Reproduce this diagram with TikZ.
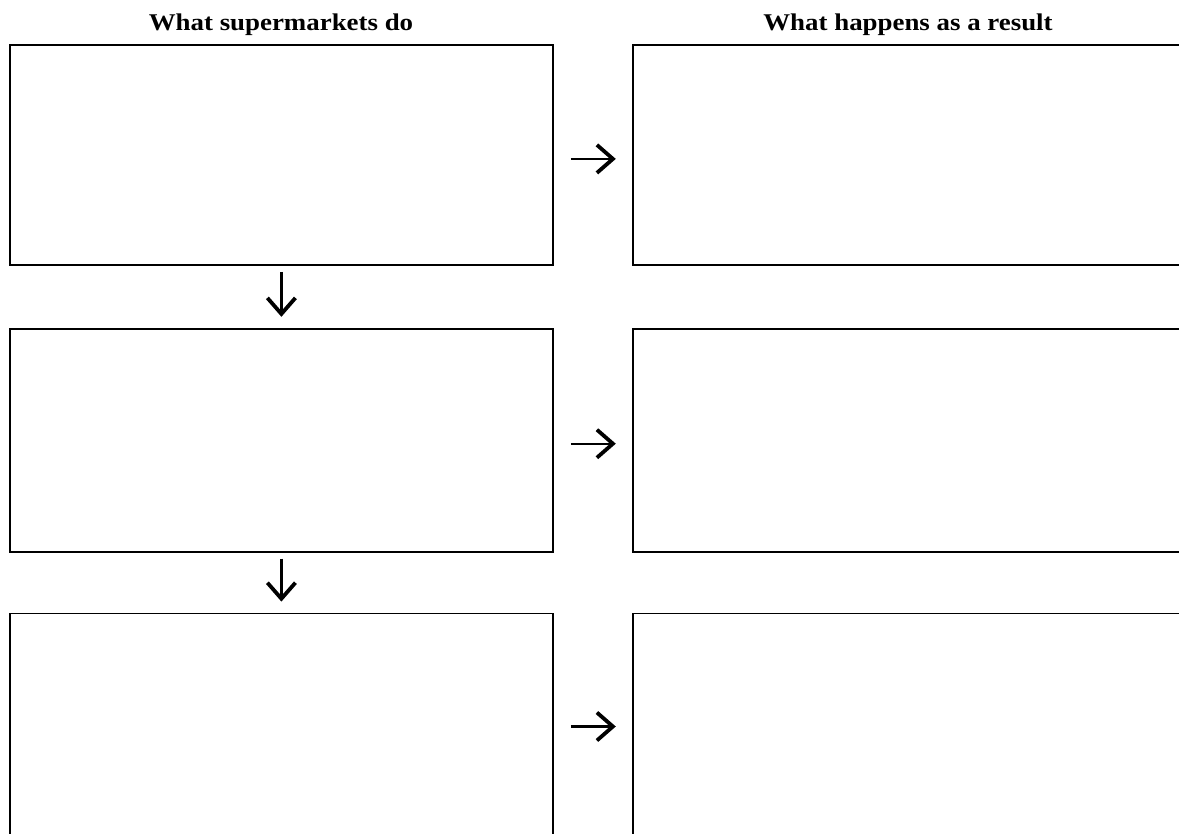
\documentclass[tikz,border=0pt]{standalone}
\usepackage{fontspec}
\setmainfont{Liberation Serif}
\usetikzlibrary{positioning, arrows.meta}

\begin{document}
\begin{tikzpicture}[x=1pt, y=-1pt, line width=1.8pt,
    box/.style={draw, rectangle, inner sep=0pt, minimum width=543pt},
    rbox/.style={draw, rectangle, inner sep=0pt, minimum width=556pt},
    heading/.style={font=\fontsize{24}{28}\selectfont\bfseries, xscale=1.12, transform shape, anchor=base},
    flow/.style={-{Straight Barb[length=16pt,width=28pt,line width=3.8pt]}, line width=2.2pt}]
    \useasboundingbox (0,0) rectangle (1179,834);

    % Headings
    \node[heading] (hdo) at (281,31) {What supermarkets do};
    \node[heading] (hres) at (908,31) {What happens as a result};

    % Left column
    \node[box, minimum height=220pt, anchor=north west] (do1) at (9,44) {};
    \node[box, minimum height=223pt, below=62pt of do1] (do2) {};
    \node[box, minimum height=226pt, below=60pt of do2] (do3) {};

    % Right column
    \node[rbox, minimum height=220pt, right=78pt of do1] (res1) {};
    \node[rbox, minimum height=223pt, right=78pt of do2] (res2) {};
    \node[rbox, minimum height=226pt, right=78pt of do3] (res3) {};

    % Arrows
    \draw[flow, shorten <=6pt, shorten >=11pt] (do1) -- (do2);
    \draw[flow, shorten <=6pt, shorten >=11pt] (do2) -- (do3);
    \draw[flow, shorten <=17pt, shorten >=16pt] ([yshift=-4pt]do1.east) -- ([yshift=-4pt]res1.west);
    \draw[flow, shorten <=17pt, shorten >=16pt] ([yshift=-3.5pt]do2.east) -- ([yshift=-3.5pt]res2.west);
    \draw[flow, shorten <=17pt, shorten >=16pt] (do3.east) -- (res3.west);
\end{tikzpicture}
\end{document}
